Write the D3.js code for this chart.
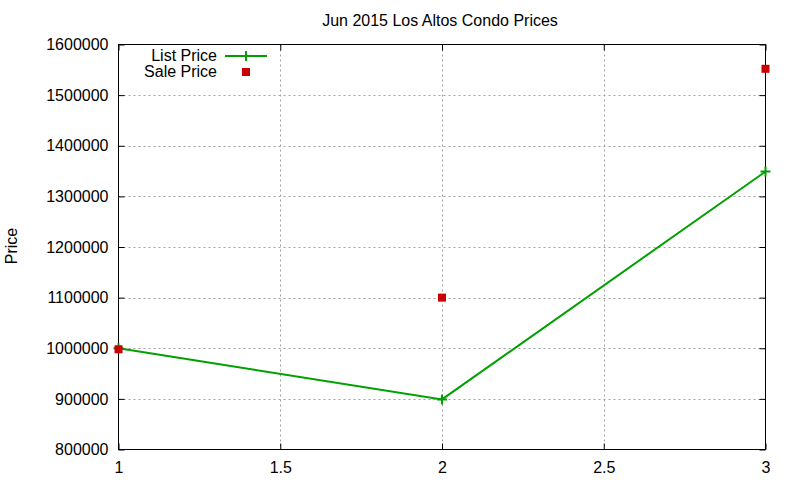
<!DOCTYPE html>
<html>
<head>
<meta charset="utf-8">
<script src="https://cdn.jsdelivr.net/npm/d3@7"></script>
<style>
body { margin: 0; background: #fff; }
text { font-family: "Liberation Sans", Arial, sans-serif; }
</style>
</head>
<body>
<script>
const w = 800
const h = 480

const xs = [1, 2, 3]
const listPrice = [1000000, 899000, 1349000]
const salePrice = [998000, 1100000, 1552000]
const xTicks = [1, 1.5, 2, 2.5, 3]
const yTicks = [800000, 900000, 1000000, 1100000, 1200000, 1300000, 1400000, 1500000, 1600000]

const mLeft = 118.5, mRight = 765.5, mTop = 44.5, mBottom = 449.5
const green = "#00a000", red = "#cc0000"

let svg = d3.select("body").append("svg").attr("width", w).attr("height", h)

let x = d3.scaleLinear().domain([1, 3]).range([mLeft, mRight])
let y = d3.scaleLinear().domain([800000, 1600000]).range([mBottom, mTop])

// grille
let grid = svg.append("g")
yTicks.slice(1, -1).forEach(t => {
    grid.append("line")
        .attr("x1", mLeft).attr("x2", mRight)
        .attr("y1", Math.round(y(t)) + 0.5).attr("y2", Math.round(y(t)) + 0.5)
        .attr("stroke", "#a0a0a0").attr("stroke-dasharray", "2,3")
})
xTicks.slice(1, -1).forEach(t => {
    grid.append("line")
        .attr("x1", Math.round(x(t)) + 0.5).attr("x2", Math.round(x(t)) + 0.5)
        .attr("y1", mTop).attr("y2", mBottom)
        .attr("stroke", "#a0a0a0").attr("stroke-dasharray", "2,3")
})

// axes (ticks vers l'interieur + miroir)
svg.append("g").attr("transform", `translate(${mLeft},0)`)
    .call(d3.axisLeft(y).tickValues(yTicks).tickSizeInner(-6).tickSizeOuter(0).tickPadding(10).tickFormat(d3.format("d")))
svg.append("g").attr("transform", `translate(${mRight},0)`)
    .call(d3.axisRight(y).tickValues(yTicks).tickSizeInner(-6).tickSizeOuter(0).tickFormat(""))
svg.append("g").attr("transform", `translate(0,${mBottom})`)
    .call(d3.axisBottom(x).tickValues(xTicks).tickSizeInner(-6).tickSizeOuter(0).tickPadding(12).tickFormat(d3.format("")))
svg.append("g").attr("transform", `translate(0,${mTop})`)
    .call(d3.axisTop(x).tickValues(xTicks).tickSizeInner(-6).tickSizeOuter(0).tickFormat(""))

svg.selectAll(".domain").remove()
svg.selectAll(".tick line").attr("stroke", "#000")
svg.selectAll(".tick text").attr("font-size", 16).attr("fill", "#000")
    .style("font-family", "Liberation Sans, Arial, sans-serif")

svg.append("rect")
    .attr("x", mLeft).attr("y", mTop)
    .attr("width", mRight - mLeft).attr("height", mBottom - mTop)
    .attr("fill", "none").attr("stroke", "#000")

// ligne list price
let line = d3.line().x((d, i) => x(xs[i])).y(d => y(d))
svg.append("path")
    .datum(listPrice)
    .attr("d", line)
    .attr("fill", "none")
    .attr("stroke", green)
    .attr("stroke-width", 2)

function plus(g, cx, cy) {
    g.append("path")
        .attr("d", `M${cx - 5},${cy}H${cx + 5}M${cx},${cy - 5}V${cy + 5}`)
        .attr("stroke", green).attr("stroke-width", 2)
}
listPrice.forEach((d, i) => plus(svg, x(xs[i]), y(d)))

svg.selectAll("rect.sale")
    .data(salePrice)
    .enter()
    .append("rect")
    .attr("class", "sale")
    .attr("x", (d, i) => x(xs[i]) - 4)
    .attr("y", d => y(d) - 4)
    .attr("width", 8).attr("height", 8)
    .attr("fill", red)

// legende
svg.append("text").attr("x", 217).attr("y", 61).attr("text-anchor", "end")
    .attr("font-size", 16).text("List Price")
svg.append("line").attr("x1", 225).attr("x2", 267).attr("y1", 56).attr("y2", 56)
    .attr("stroke", green).attr("stroke-width", 2)
plus(svg, 246, 56)
svg.append("text").attr("x", 217).attr("y", 77).attr("text-anchor", "end")
    .attr("font-size", 16).text("Sale Price")
svg.append("rect").attr("x", 242).attr("y", 68).attr("width", 8).attr("height", 8).attr("fill", red)

// titres
svg.append("text").attr("x", 440).attr("y", 26).attr("text-anchor", "middle")
    .attr("font-size", 16).text("Jun 2015 Los Altos Condo Prices")
svg.append("text")
    .attr("transform", "translate(17,246) rotate(-90)")
    .attr("text-anchor", "middle")
    .attr("font-size", 16).text("Price")
</script>
</body>
</html>
